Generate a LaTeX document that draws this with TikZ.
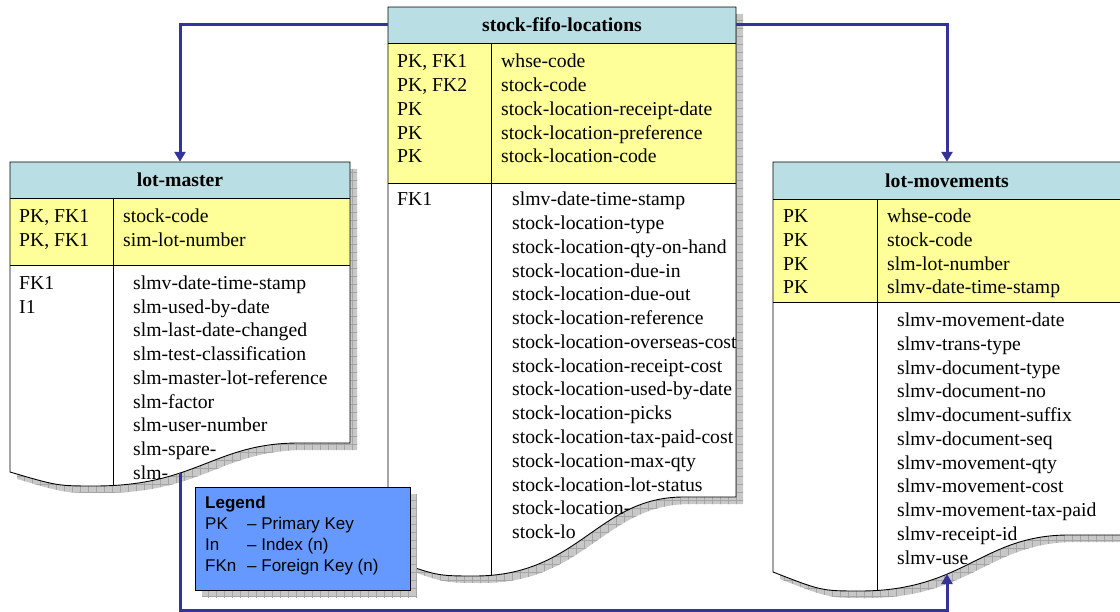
\documentclass[tikz,border=0pt]{standalone}
\usepackage{fontspec}
\setmainfont{Liberation Serif}
\setsansfont{Liberation Sans}
\usetikzlibrary{arrows.meta,patterns.meta}
\definecolor{hdrc}{RGB}{185,223,228}
\definecolor{keyc}{RGB}{255,255,153}
\definecolor{legc}{RGB}{102,153,255}
\definecolor{connc}{RGB}{51,51,153}
\definecolor{shadc}{RGB}{200,200,200}
\definecolor{shadl}{RGB}{165,165,165}
\tikzset{
  fld/.style={font=\fontsize{19.7}{23.75}\selectfont, anchor=west, inner sep=0pt, text height=14pt, text depth=4pt},
  ttl/.style={font=\fontsize{19.7}{23.75}\selectfont\bfseries, inner sep=0pt, minimum height=36pt},
  conn/.style={draw=connc, line width=3pt, -{Triangle[length=10pt,width=11pt]}},
  outl/.style={draw=black, line width=0.9pt},
  shadowgrid/.style={pattern={Lines[distance=8pt,angle=#1,line width=0.5pt]}, pattern color=shadl},
}
% #1 L, #2 R, #3 top, #4 header bottom, #5 key bottom, #6 divider x, #7 left bottom y, #8 lowest y, #9 right bottom y
\newcommand\erTable[9]{%
  \pgfmathsetmacro\erW{#2-#1}%
  \pgfmathsetmacro\xa{#1+0.25*\erW}%
  \pgfmathsetmacro\xb{#1+0.55*\erW}%
  \pgfmathsetmacro\xc{#1+0.60*\erW}%
  \pgfmathsetmacro\xd{#1+0.85*\erW}%
  \pgfmathsetmacro\xe{#1+0.14*\erW}%
  \def\erPath{(#1,#3) -- (#2,#3) -- (#2,#9) -- (\xd,#9) .. controls (\xc,#9) and (\xb,#8) .. (\xa,#8) .. controls (\xe,#8) .. (#1,#7) -- cycle}%
  \begin{scope}[shift={(7,7)}]
    \fill[shadc] \erPath;
    \path[shadowgrid=0] \erPath;
    \path[shadowgrid=90] \erPath;
  \end{scope}
  \fill[white] \erPath;
  \fill[hdrc] (#1,#3) rectangle (#2,#4);
  \fill[keyc] (#1,#4) rectangle (#2,#5);
  \begin{scope}
    \clip \erPath;
    \draw[outl] (#6,#4) -- (#6,700);
  \end{scope}
  \draw[outl] (#1,#4) -- (#2,#4) (#1,#5) -- (#2,#5);
  \draw[outl] \erPath;
}
\newcommand\fieldlist[4]{%
  \foreach \t [count=\i] in {#4} {\node[fld] (#1\i) at (#2,{#3+23.75*(\i-1)}) {\t};}%
}
\begin{document}
\begin{tikzpicture}[x=1pt,y=-1pt]
\useasboundingbox (0,0) rectangle (1120,612);
\clip (0,0) rectangle (1120,612);

% tables
\erTable{10}{350}{162}{198}{265}{113}{472}{486}{443}
\erTable{388}{736}{7}{43}{183}{491}{558}{576}{497}
\erTable{773}{1121}{162}{199}{302}{877}{572}{591}{535}

% titles
\node[ttl, minimum width=340pt] (lm) at (180,180) {lot-master};
\node[ttl, minimum width=348pt] (sfl) at (562,25) {stock-fifo-locations};
\node[ttl, minimum width=348pt, minimum height=37pt] (lmv) at (947,180.5) {lot-movements};

% stock-fifo-locations fields
\fieldlist{sflk}{397}{63}{{PK, FK1},{PK, FK2},PK,PK,PK}
\fieldlist{sflf}{501}{63}{whse-code,stock-code,stock-location-receipt-date,stock-location-preference,stock-location-code}
\fieldlist{sflx}{397}{201}{FK1}
\fieldlist{sfla}{512}{201}{slmv-date-time-stamp,stock-location-type,stock-location-qty-on-hand,stock-location-due-in,stock-location-due-out,stock-location-reference,stock-location-overseas-cost,stock-location-receipt-cost,stock-location-used-by-date,stock-location-picks,stock-location-tax-paid-cost,stock-location-max-qty,stock-location-lot-status,stock-location-,stock-lo}

% lot-master fields
\fieldlist{lmk}{19}{217.7}{{PK, FK1},{PK, FK1}}
\fieldlist{lmf}{123}{217.7}{stock-code,sim-lot-number}
\fieldlist{lmx}{19}{284.3}{FK1,I1}
\fieldlist{lma}{133}{284.3}{slmv-date-time-stamp,slm-used-by-date,slm-last-date-changed,slm-test-classification,slm-master-lot-reference,slm-factor,slm-user-number,slm-spare-,slm-}

% lot-movements fields
\fieldlist{lvk}{783}{217.7}{PK,PK,PK,PK}
\fieldlist{lvf}{887}{217.7}{whse-code,stock-code,slm-lot-number,slmv-date-time-stamp}
\fieldlist{lva}{897}{321.7}{slmv-movement-date,slmv-trans-type,slmv-document-type,slmv-document-no,slmv-document-suffix,slmv-document-seq,slmv-movement-qty,slmv-movement-cost,slmv-movement-tax-paid,slmv-receipt-id,slmv-use}

% connectors
\coordinate (lmb) at (180,473);
\coordinate (lmvb) at (947,574);
\coordinate (lane) at (0,610);
\draw[conn] (sfl.west) -| (lm.north);
\draw[conn] (sfl.east) -| (lmv.north);
\draw[conn] (lmb) -- (lmb |- lane) -| (lmvb);

% legend
\begin{scope}[shift={(7,7)}]
  \fill[shadc] (195,487) rectangle (410,590);
  \path[shadowgrid=0] (195,487) rectangle (410,590);
  \path[shadowgrid=90] (195,487) rectangle (410,590);
\end{scope}
\node[draw=black, fill=legc, line width=0.9pt, minimum width=215pt, minimum height=103pt, inner sep=0pt] (legend) at (302.5,538.5) {};
\node[anchor=north west, inner sep=0pt, font=\sffamily\fontsize{17}{21}\selectfont] (legtext) at (205,493.3) {%
  \begin{tabular}{@{}p{42pt}@{}l@{}}
  \multicolumn{2}{@{}l@{}}{\textbf{Legend}}\\
  PK & – Primary Key\\
  In & – Index (n)\\
  FKn & – Foreign Key (n)
  \end{tabular}};
\end{tikzpicture}
\end{document}
